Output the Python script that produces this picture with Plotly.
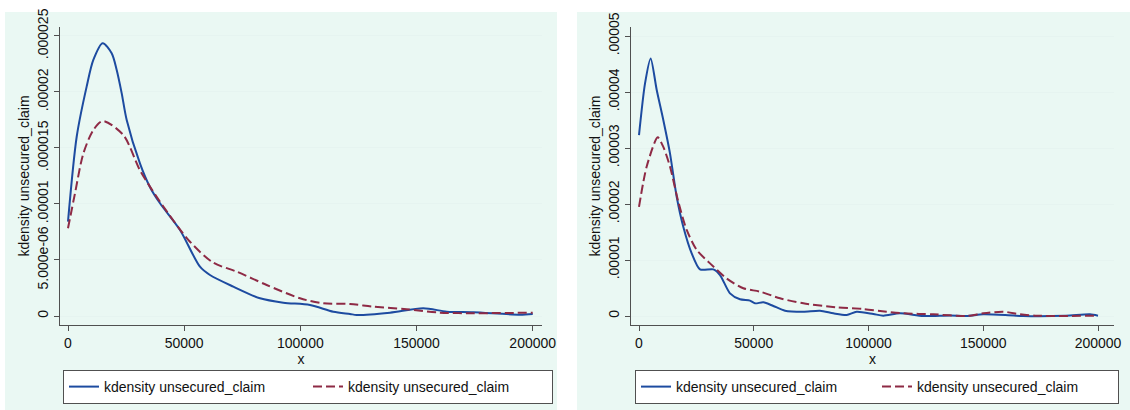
import plotly.graph_objects as go

# Kernel density estimates of unsecured_claim (density values in units of 1e-6)
left_blue_x = [0, 3740, 8050, 10900, 14930, 18800, 20960, 23100, 25260, 31000, 35300,
               39600, 48200, 56800, 61100, 71150, 82640, 92680, 104150, 114200, 121370,
               124250, 138600, 152900, 163000, 174450, 194500, 200000]
left_blue_y = [8.42, 16.0, 20.5, 22.86, 24.35, 23.45, 21.96, 19.9, 17.5, 13.6, 11.5,
               10.06, 7.68, 4.4, 3.66, 2.62, 1.58, 1.19, 0.98, 0.38, 0.18,
               0.09, 0.3, 0.69, 0.39, 0.33, 0.12, 0.18]

left_red_x = [0, 3010, 6590, 10900, 14930, 23800, 31000, 39600, 52500, 62540, 72600,
              85500, 99850, 109900, 121370, 131400, 145750, 160100, 174450, 200000]
left_red_y = [7.83, 10.95, 14.5, 16.6, 17.41, 16.16, 13.0, 10.2, 6.63, 4.76, 3.96,
              2.77, 1.58, 1.13, 1.07, 0.83, 0.6, 0.3, 0.25, 0.3]

right_blue_x = [0, 2610, 5080, 7700, 10590, 13500, 16420, 19300, 22960, 26580, 32400,
                35300, 39650, 44000, 48370, 50550, 54180, 58520, 63620, 71600, 78870,
                84680, 90500, 94860, 102100, 106450, 113700, 123900, 135500, 142800,
                150000, 160900, 167400, 186000, 196500, 200000]
right_blue_y = [32.3, 41.5, 46.0, 40.4, 35.0, 29.05, 21.3, 15.95, 11.2, 8.33, 8.33,
                7.32, 4.05, 2.98, 2.74, 2.26, 2.44, 1.79, 0.95, 0.77, 0.95,
                0.48, 0.18, 0.77, 0.36, 0.05, 0.48, 0.0, 0.1, 0.0,
                0.3, 0.15, 0.0, 0.05, 0.3, 0.05]

right_red_x = [0, 3350, 8150, 10590, 13500, 17130, 20780, 25140, 30940, 38200, 45450,
               52720, 61440, 71600, 86140, 97730, 107900, 115170, 128250, 142800,
               150000, 158750, 166000, 173500, 200000]
right_red_y = [19.5, 26.7, 31.9, 30.2, 26.7, 20.4, 15.36, 11.8, 9.4, 6.7, 4.95,
               4.35, 3.16, 2.26, 1.55, 1.25, 0.77, 0.48, 0.3, 0.0,
               0.48, 0.77, 0.3, 0.05, 0.05]

x_ticks = [0, 50000, 100000, 150000, 200000]
x_ticktext = ["0", "50000", "100000", "150000", "200000"]
left_yticks = [0, 5e-6, 1e-5, 1.5e-5, 2e-5, 2.5e-5]
left_yticktext = ["0", "5.000e-06", ".00001", ".000015", ".00002", ".000025"]
right_yticks = [0, 1e-5, 2e-5, 3e-5, 4e-5, 5e-5]
right_yticktext = ["0", ".00001", ".00002", ".00003", ".00004", ".00005"]

series_name = "kdensity unsecured_claim"

W, H = 1130, 410
BLUE = "#1d4ba0"
MAROON = "#8e2a45"
MINT = "#eaf8f3"
GRID = "#e6f4f0"
AXIS = "#505050"
FONT = "Liberation Sans, Arial, sans-serif"
FS = 14


def scaled(vals):
    return [v * 1e-6 for v in vals]


fig = go.Figure()

fig.add_trace(go.Scatter(x=left_blue_x, y=scaled(left_blue_y), mode="lines",
                         line=dict(color=BLUE, width=2, shape="spline", smoothing=0.8),
                         name=series_name, xaxis="x", yaxis="y", legend="legend"))
fig.add_trace(go.Scatter(x=left_red_x, y=scaled(left_red_y), mode="lines",
                         line=dict(color=MAROON, width=2, dash="9px,4px", shape="spline", smoothing=0.8),
                         name=series_name, xaxis="x", yaxis="y", legend="legend"))
fig.add_trace(go.Scatter(x=right_blue_x, y=scaled(right_blue_y), mode="lines",
                         line=dict(color=BLUE, width=2, shape="spline", smoothing=0.7),
                         name=series_name, xaxis="x2", yaxis="y2", legend="legend2"))
fig.add_trace(go.Scatter(x=right_red_x, y=scaled(right_red_y), mode="lines",
                         line=dict(color=MAROON, width=2, dash="9px,4px", shape="spline", smoothing=0.7),
                         name=series_name, xaxis="x2", yaxis="y2", legend="legend2"))

y_dom = [(H - 325) / H, (H - 27) / H]


def xaxis(domain, anchor, rng):
    return dict(domain=domain, anchor=anchor, range=rng,
                tickvals=x_ticks, ticktext=x_ticktext,
                showline=True, linecolor=AXIS, linewidth=1,
                ticks="outside", ticklen=5, tickcolor=AXIS,
                showgrid=False, zeroline=False,
                tickfont=dict(size=FS, color="#111", family=FONT),
                title=dict(text="x", font=dict(size=FS, color="#111", family=FONT), standoff=0),
                automargin=False)


def yaxis(anchor, rng, vals, text):
    return dict(domain=y_dom, anchor=anchor, range=rng,
                tickvals=vals, ticktext=text, tickangle=-90,
                showline=True, linecolor=AXIS, linewidth=1,
                ticks="outside", ticklen=5, tickcolor=AXIS,
                showgrid=True, gridcolor=GRID, gridwidth=1, zeroline=False,
                tickfont=dict(size=FS, color="#111", family=FONT),
                title=dict(text=series_name, font=dict(size=FS, color="#111", family=FONT), standoff=2),
                automargin=False)


fig.update_layout(
    width=W, height=H,
    margin=dict(l=0, r=0, t=0, b=0),
    paper_bgcolor="white", plot_bgcolor="white",
    font=dict(family=FONT, size=FS, color="#111"),
    xaxis=xaxis([60 / W, 542 / W], "y", [-3443, 204000]),
    yaxis=yaxis("x", [-0.8036e-6, 25.80e-6], left_yticks, left_yticktext),
    xaxis2=xaxis([631 / W, 1114 / W], "y2", [-3486, 206970]),
    yaxis2=yaxis("x2", [-1.607e-6, 51.61e-6], right_yticks, right_yticktext),
    legend=dict(orientation="h", x=63 / W, y=(H - 370) / H, xanchor="left", yanchor="top",
                bgcolor="white", bordercolor=AXIS, borderwidth=1,
                entrywidth=199, font=dict(size=FS, family=FONT, color="#111")),
    legend2=dict(orientation="h", x=635 / W, y=(H - 370) / H, xanchor="left", yanchor="top",
                 bgcolor="white", bordercolor=AXIS, borderwidth=1,
                 entrywidth=196, font=dict(size=FS, family=FONT, color="#111")),
    showlegend=True,
)

# Light panel backgrounds behind each graph
for x0, x1 in [(5, 557), (577, 1130)]:
    fig.add_shape(type="rect", xref="paper", yref="paper",
                  x0=x0 / W, x1=x1 / W, y0=0, y1=(H - 12) / H,
                  fillcolor=MINT, line=dict(width=0), layer="below")

fig.write_html("out.html")
